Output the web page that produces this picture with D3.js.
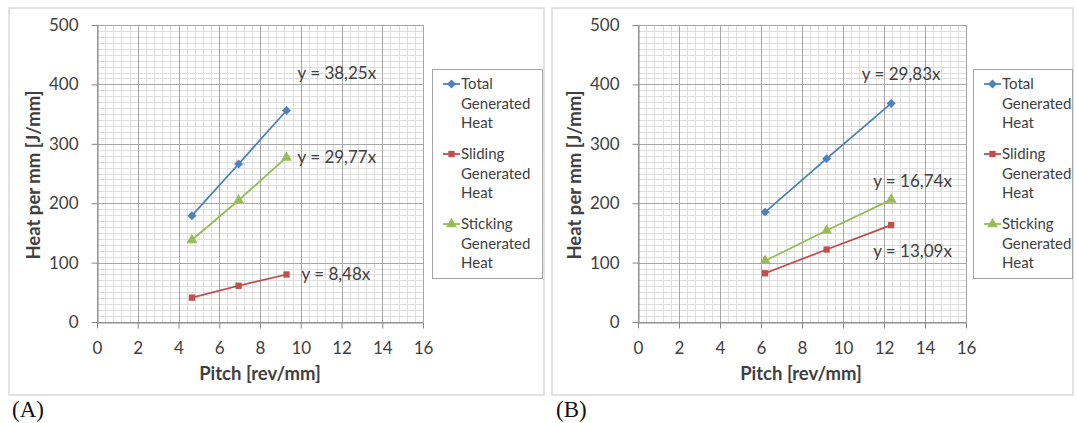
<!DOCTYPE html>
<html>
<head>
<meta charset="utf-8">
<script src="https://cdn.jsdelivr.net/npm/d3@7"></script>
<style>
  html, body { margin: 0; padding: 0; background: #fff; }
  svg { display: block; font-family: Lato, "Open Sans", sans-serif; }
</style>
</head>
<body>
<svg id="chart" width="1077" height="423"></svg>
<script>
// series shared by both panels
const seriesNames = ['Total Generated Heat', 'Sliding Generated Heat', 'Sticking Generated Heat'];
const seriesColors = ['#4a7ebb', '#be4b48', '#98b954'];
const markerColors = ['#4f81bd', '#c0504d', '#9bbb59'];
const xTicks = [0, 2, 4, 6, 8, 10, 12, 14, 16];
const yTicks = [0, 100, 200, 300, 400, 500];

// panel A
const pitchA = [4.66, 6.95, 9.3];
const totalA = [179, 266, 356];
const slidingA = [41, 61, 80];
const stickingA = [138, 205, 277];
const trendA = ['y = 38,25x', 'y = 8,48x', 'y = 29,77x'];

// panel B
const pitchB = [6.2, 9.2, 12.35];
const totalB = [185, 275, 368];
const slidingB = [82, 122, 163];
const stickingB = [103, 154, 206];
const trendB = ['y = 29,83x', 'y = 13,09x', 'y = 16,74x'];

const svg = d3.select('#chart');

// diamond = square turned 45deg, matches the spreadsheet marker better than d3's tall diamond
const symbols = [d3.symbolSquare, d3.symbolSquare, d3.symbolTriangle];
const symSizes = [40, 40, 52];
const symRotate = [45, 0, 0];

function drawPanel(cfg) {
  const g = svg.append('g');

  // outer frame
  g.append('rect')
    .attr('x', cfg.box[0]).attr('y', cfg.box[1])
    .attr('width', cfg.box[2]).attr('height', cfg.box[3])
    .attr('fill', '#fff').attr('stroke', '#d9d9d9').attr('stroke-width', 1.5);

  const x = d3.scaleLinear().domain([0, 16]).range([cfg.plot.left, cfg.plot.right]);
  const y = d3.scaleLinear().domain([0, 500]).range([cfg.plot.bottom, cfg.plot.top]);

  // grid
  const minorX = d3.range(0, 16.001, 0.4);
  const minorY = d3.range(0, 500.1, 10);
  const grid = g.append('g');
  grid.selectAll('.mx').data(minorX).enter().append('line')
    .attr('x1', d => Math.round(x(d)) + 0.5).attr('x2', d => Math.round(x(d)) + 0.5)
    .attr('y1', y(500)).attr('y2', y(0))
    .attr('stroke', '#dedede').attr('stroke-width', 1);
  grid.selectAll('.my').data(minorY).enter().append('line')
    .attr('x1', x(0)).attr('x2', x(16))
    .attr('y1', d => Math.round(y(d)) + 0.5).attr('y2', d => Math.round(y(d)) + 0.5)
    .attr('stroke', '#dedede').attr('stroke-width', 1);
  grid.selectAll('.Mx').data(xTicks).enter().append('line')
    .attr('x1', d => Math.round(x(d)) + 0.5).attr('x2', d => Math.round(x(d)) + 0.5)
    .attr('y1', y(500)).attr('y2', y(0))
    .attr('stroke', '#a6a6a6').attr('stroke-width', 1);
  grid.selectAll('.My').data(yTicks).enter().append('line')
    .attr('x1', x(0)).attr('x2', x(16))
    .attr('y1', d => Math.round(y(d)) + 0.5).attr('y2', d => Math.round(y(d)) + 0.5)
    .attr('stroke', '#a6a6a6').attr('stroke-width', 1);

  // axes
  const xAxis = g.append('g')
    .attr('transform', `translate(0,${Math.round(y(0)) + 0.5})`)
    .call(d3.axisBottom(x).tickValues(xTicks).tickSize(6).tickSizeOuter(0).tickPadding(13));
  const yAxis = g.append('g')
    .attr('transform', `translate(${Math.round(x(0)) + 0.5},0)`)
    .call(d3.axisLeft(y).tickValues(yTicks).tickSize(6).tickSizeOuter(0).tickPadding(13));
  [xAxis, yAxis].forEach(a => {
    a.select('.domain').attr('stroke', '#868686');
    a.selectAll('.tick line').attr('stroke', '#868686');
    a.selectAll('.tick text')
      .attr('fill', '#404040')
      .style('font-size', '17px')
      .style('font-family', 'Lato, sans-serif');
  });

  // axis titles
  g.append('text')
    .attr('x', cfg.xTitle[0]).attr('y', cfg.xTitle[1])
    .attr('text-anchor', 'middle')
    .attr('font-weight', 'bold').attr('font-size', 18.5).attr('fill', '#404040')
    .text('Pitch [rev/mm]');
  g.append('text')
    .attr('transform', `translate(${cfg.yTitle[0]},${cfg.yTitle[1]}) rotate(-90)`)
    .attr('text-anchor', 'middle')
    .attr('font-weight', 'bold').attr('font-size', 18.5).attr('fill', '#404040')
    .text('Heat per mm [J/mm]');

  // series
  const line = d3.line().x(d => x(d[0])).y(d => y(d[1]));
  cfg.series.forEach((vals, i) => {
    const pts = cfg.pitch.map((p, k) => [p, vals[k]]);
    g.append('path')
      .attr('d', line(pts))
      .attr('fill', 'none')
      .attr('stroke', seriesColors[i])
      .attr('stroke-width', 1.75);
    g.selectAll(null).data(pts).enter().append('path')
      .attr('transform', d => `translate(${x(d[0])},${y(d[1])}) rotate(${symRotate[i]})`)
      .attr('d', d3.symbol(symbols[i], symSizes[i]))
      .attr('fill', markerColors[i]);

    // trend equation next to the last point
    const last = pts[pts.length - 1];
    const off = cfg.trendOffset[i];
    g.append('text')
      .attr('x', x(last[0]) + off[0])
      .attr('y', y(last[1]) + off[1])
      .attr('dy', '0.35em')
      .attr('text-anchor', off[2] || 'start')
      .attr('font-size', 17).attr('fill', '#404040')
      .text(cfg.trend[i]);
  });

  // legend
  const lg = g.append('g');
  lg.append('rect')
    .attr('x', cfg.legend[0] + 0.5).attr('y', cfg.legend[1] + 0.5)
    .attr('width', cfg.legend[2]).attr('height', cfg.legend[3])
    .attr('fill', '#fff').attr('stroke', '#a6a6a6');
  seriesNames.forEach((name, i) => {
    const top = cfg.legend[1] + 15 + i * 70;
    const mx = cfg.legend[0] + 11;
    lg.append('line')
      .attr('x1', mx).attr('x2', mx + 17)
      .attr('y1', top).attr('y2', top)
      .attr('stroke', seriesColors[i]).attr('stroke-width', 1.75);
    lg.append('path')
      .attr('transform', `translate(${mx + 8.5},${top}) rotate(${symRotate[i]})`)
      .attr('d', d3.symbol(symbols[i], symSizes[i]))
      .attr('fill', markerColors[i]);
    const t = lg.append('text')
      .attr('x', mx + 18).attr('y', top)
      .attr('font-size', 15).attr('fill', '#404040');
    name.split(' ').forEach((w, k) => {
      t.append('tspan')
        .attr('x', mx + 18)
        .attr('y', top + k * 19.5)
        .attr('dy', '0.35em')
        .text(w);
    });
  });

  // panel letter
  svg.append('text')
    .attr('x', cfg.letter[0]).attr('y', cfg.letter[1])
    .attr('font-family', '"Liberation Serif", "DejaVu Serif", serif')
    .attr('font-size', 23).attr('fill', '#111')
    .text(cfg.letterText);
}

drawPanel({
  box: [9, 8, 535, 387],
  plot: { left: 97, right: 423, top: 25, bottom: 322 },
  pitch: pitchA,
  series: [totalA, slidingA, stickingA],
  trend: trendA,
  trendOffset: [[11, -37], [15, 0], [11, 0]],
  xTitle: [260, 380],
  yTitle: [40, 175],
  legend: [432, 69, 110, 209],
  letter: [12, 417],
  letterText: '(A)'
});

drawPanel({
  box: [552, 8, 521, 387],
  plot: { left: 638, right: 966, top: 25, bottom: 322 },
  pitch: pitchB,
  series: [totalB, slidingB, stickingB],
  trend: trendB,
  trendOffset: [[10, -29, 'middle'], [-18, 26], [-18, -19]],
  xTitle: [801, 380],
  yTitle: [581, 175],
  legend: [973, 69, 99, 209],
  letter: [556, 417],
  letterText: '(B)'
});
</script>
</body>
</html>
